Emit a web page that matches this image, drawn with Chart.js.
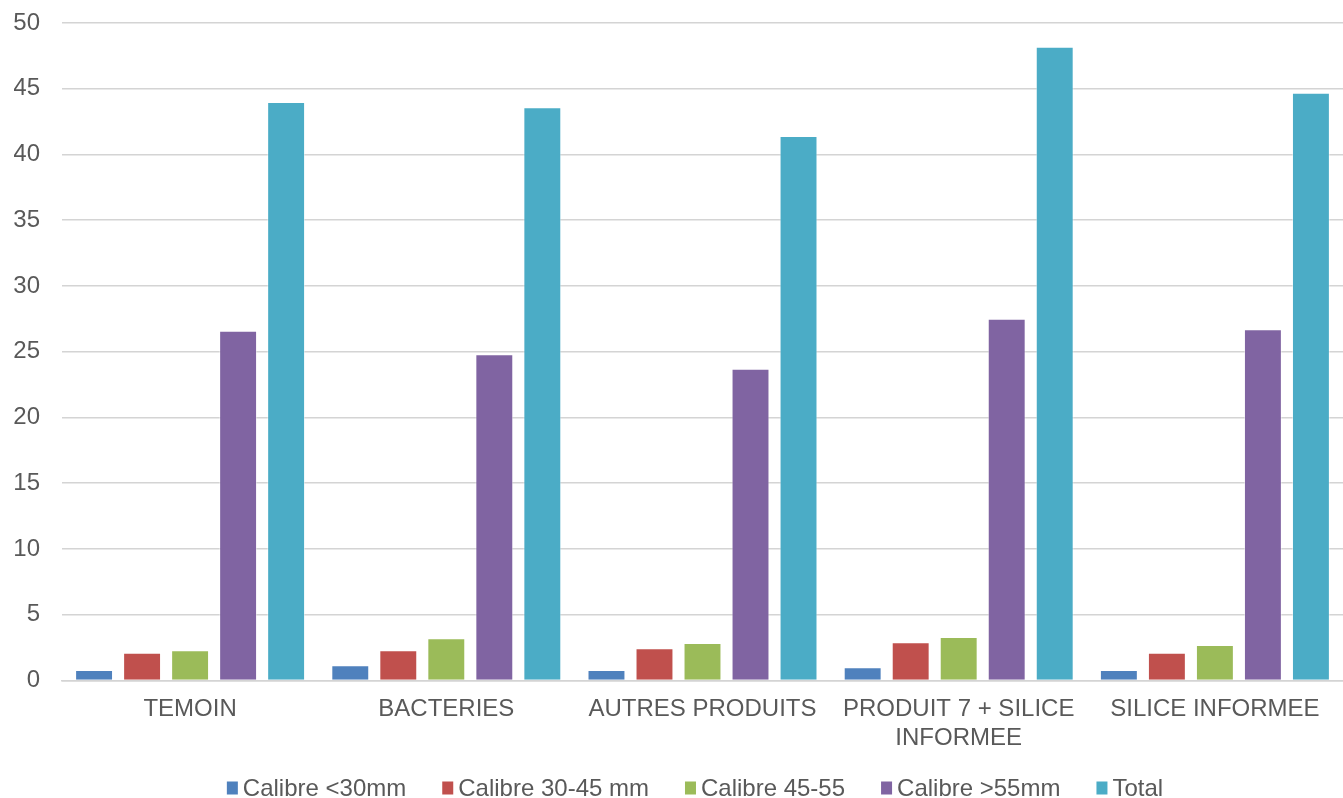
<!DOCTYPE html>
<html>
<head>
<meta charset="utf-8">
<title>Calibres par modalité</title>
<script src="https://cdn.jsdelivr.net/npm/chart.js@4.4.1/dist/chart.umd.min.js"></script>
<style>
  html, body { margin: 0; padding: 0; background: #ffffff; }
  #wrap { width: 1343px; height: 798px; position: relative; }
</style>
</head>
<body>
<div id="wrap"><canvas id="chart" width="1343" height="798"></canvas></div>
<script>
// Modalités (axe des catégories)
const categories = [
  'TEMOIN',
  'BACTERIES',
  'AUTRES PRODUITS',
  ['PRODUIT 7 + SILICE', 'INFORMEE'],
  'SILICE INFORMEE'
];

// Séries
const seriesNames = ['Calibre <30mm', 'Calibre 30-45 mm', 'Calibre 45-55', 'Calibre >55mm', 'Total'];
const calibreMoins30 = [0.8, 1.15, 0.8, 1.0, 0.8];
const calibre30a45   = [2.1, 2.3, 2.45, 2.9, 2.1];
const calibre45a55   = [2.3, 3.2, 2.85, 3.3, 2.7];
const calibrePlus55  = [26.6, 24.8, 23.7, 27.5, 26.7];
const total          = [44.0, 43.6, 41.4, 48.2, 44.7];

// Axe des valeurs
const yTicks = [0, 5, 10, 15, 20, 25, 30, 35, 40, 45, 50];

const colors = ['#4F81BD', '#C0504D', '#9BBB59', '#8064A2', '#4BACC6'];
const seriesValues = [calibreMoins30, calibre30a45, calibre45a55, calibrePlus55, total];

const FONT = "'Liberation Sans', Arial, sans-serif";
const TEXT = '#595959';
const FONT_SIZE = 24;

// Légende dessinée sous le graphique : petits carrés serrés contre le texte
const bottomLegend = {
  id: 'bottomLegend',
  afterDraw(chart) {
    const ctx = chart.ctx;
    const sets = chart.data.datasets;
    ctx.save();
    ctx.font = FONT_SIZE + 'px ' + FONT;
    ctx.textBaseline = 'middle';
    const boxW = 11, boxH = 13, gapText = 5, gapItem = 36;
    const widths = sets.map(d => boxW + gapText + ctx.measureText(d.label).width);
    const full = widths.reduce((a, b) => a + b, 0) + gapItem * (sets.length - 1);
    let x = 695 - full / 2;
    const yMid = 788;
    sets.forEach((d, i) => {
      ctx.fillStyle = d.backgroundColor;
      ctx.fillRect(x, yMid - boxH / 2, boxW, boxH);
      ctx.fillStyle = TEXT;
      ctx.fillText(d.label, x + boxW + gapText, yMid + 1);
      x += widths[i] + gapItem;
    });
    ctx.restore();
  }
};

new Chart(document.getElementById('chart'), {
  type: 'bar',
  data: {
    labels: categories,
    datasets: seriesNames.map((name, i) => ({
      label: name,
      data: seriesValues[i],
      backgroundColor: colors[i],
      borderColor: 'rgba(255,255,255,0.45)',
      borderWidth: 1,
      categoryPercentage: 0.937,
      barPercentage: 0.79
    }))
  },
  options: {
    responsive: false,
    animation: false,
    devicePixelRatio: 1,
    layout: { padding: { top: 23, left: 14, right: 0, bottom: 30 } },
    plugins: {
      legend: { display: false },
      tooltip: { enabled: false }
    },
    scales: {
      x: {
        grid: { display: false, drawTicks: false },
        border: { display: true, color: '#d4d4d4', width: 1.5 },
        ticks: {
          color: TEXT,
          font: { family: FONT, size: FONT_SIZE, lineHeight: 1.2 },
          padding: 15,
          autoSkip: false,
          maxRotation: 0,
          minRotation: 0
        }
      },
      y: {
        min: 0,
        max: 50,
        afterBuildTicks(axis) { axis.ticks = yTicks.map(v => ({ value: v })); },
        afterFit(axis) {
          axis.width = 48;
          axis.paddingTop = 0;
          axis.paddingBottom = 0;
        },
        grid: { color: '#d4d4d4', lineWidth: 1.5, drawTicks: false },
        border: { display: false },
        ticks: {
          color: TEXT,
          font: { family: FONT, size: FONT_SIZE },
          padding: 22
        }
      }
    }
  },
  plugins: [bottomLegend]
});
</script>
</body>
</html>
